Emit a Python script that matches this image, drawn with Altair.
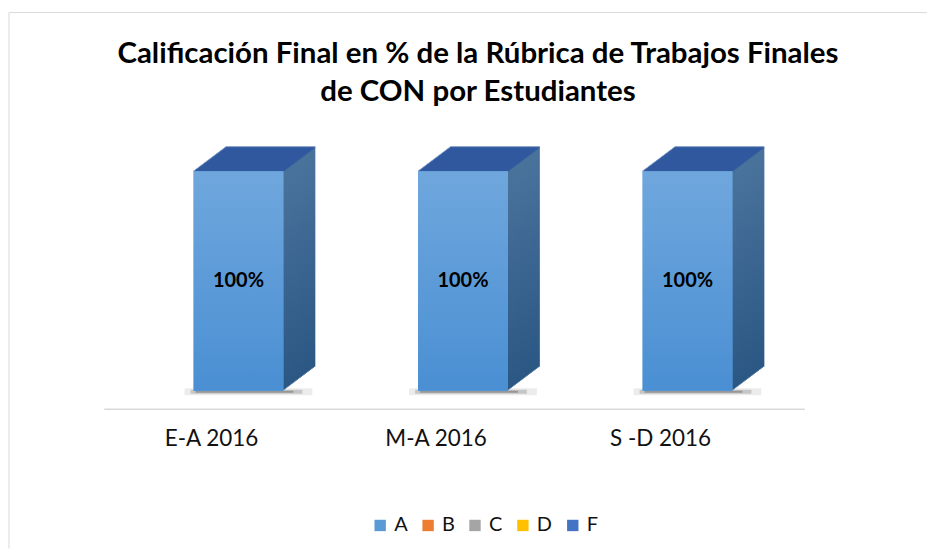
import altair as alt
import pandas as pd

categories = ["E-A 2016", "M-A 2016", "S -D 2016"]
grades = ["A", "B", "C", "D", "F"]
values_A = [100, 100, 100]
values_B = [0, 0, 0]
values_C = [0, 0, 0]
values_D = [0, 0, 0]
values_F = [0, 0, 0]
grade_colors = ["#5B9BD5", "#ED7D31", "#A5A5A5", "#FFC000", "#4472C4"]
title_lines = ["Calificación Final en % de la Rúbrica de Trabajos Finales",
               "de CON por Estudiantes"]

series = {"A": values_A, "B": values_B, "C": values_C, "D": values_D, "F": values_F}
rows = [{"cat": c, "grade": g, "value": v}
        for g in grades for c, v in zip(categories, series[g])]
df = pd.DataFrame(rows)

FONT = "Lato"
BAR_W = 90
XO = 9
DX, DY = 32, 24
N = 24

x = alt.X("cat:N", sort=categories,
          scale=alt.Scale(paddingInner=0.2, paddingOuter=0.16),
          axis=alt.Axis(title=None, labelAngle=0, domain=True, domainColor="#d9d9d9",
                        domainWidth=1.5, ticks=False, grid=False, offset=18,
                        labelFontSize=22.5, labelFont=FONT, labelColor="#111111",
                        labelPadding=19, labelOffset=-18))
yscale = alt.Scale(domain=[0, 100])
y = alt.Y("value:Q", scale=yscale, axis=None)

base = alt.Chart(df).transform_filter("datum.value > 0")

side_grad = alt.Gradient(gradient="linear",
                         stops=[alt.GradientStop(color="#4a739c", offset=0),
                                alt.GradientStop(color="#2b5784", offset=1)],
                         x1=0, x2=0, y1=0, y2=1)
front_grad = alt.Gradient(gradient="linear",
                          stops=[alt.GradientStop(color="#6fa7dd", offset=0),
                                 alt.GradientStop(color="#4a8fd3", offset=1)],
                          x1=0, x2=0, y1=0, y2=1)

layers = []
# soft shadow on floor
zero_y = alt.Y("zero:Q", scale=yscale, axis=None)
for size, thick, op, dxo in [(128, 7, 0.10, 10), (112, 4, 0.22, 8), (98, 2, 0.35, 6)]:
    layers.append(base.transform_calculate(zero="0")
                  .mark_tick(size=size, thickness=thick, color="#404040", opacity=op,
                             xOffset=XO + dxo, yOffset=1)
                  .encode(x=x, y=zero_y))
# side face (extrusion)
for k in range(N, 0, -1):
    ox = XO + k * DX / N
    oy = -k * DY / N
    layers.append(base.mark_bar(width=BAR_W, color=side_grad, xOffset=ox, x2Offset=ox,
                                yOffset=oy, y2Offset=oy).encode(x=x, y=y))
# top face
for k in range(N, -1, -1):
    ox = XO + k * DX / N
    oy = -k * DY / N
    layers.append(base.mark_tick(size=BAR_W, thickness=2, color="#2e55a0",
                                 xOffset=ox, yOffset=oy).encode(x=x, y=y))
# front face (legend carrier)
layers.append(base.mark_bar(width=BAR_W, xOffset=XO, x2Offset=XO).encode(
    x=x, y=y,
    color=alt.Color("grade:N", scale=alt.Scale(domain=grades, range=grade_colors),
                    legend=alt.Legend(title=None, orient="none", legendX=267, legendY=345,
                                      direction="horizontal", symbolType="square",
                                      symbolSize=130, symbolStrokeWidth=0,
                                      labelFontSize=20, labelFont=FONT, labelColor="#111111",
                                      columnPadding=10, labelOffset=4, padding=0))))
layers.append(base.mark_bar(width=BAR_W, color=front_grad, xOffset=XO, x2Offset=XO)
              .encode(x=x, y=y))
# labels
layers.append(base.transform_calculate(mid="datum.value / 2", lbl="datum.value + '%'")
              .mark_text(fontSize=20, fontWeight="bold", font=FONT, color="black", xOffset=XO)
              .encode(x=x, y=alt.Y("mid:Q", scale=yscale, axis=None), text="lbl:N"))

frame_src = alt.Data(values=[{}])
top_line = alt.Chart(frame_src).mark_rule(color="#d9d9d9", strokeWidth=1).encode(
    x=alt.value(-95), x2=alt.value(825), y=alt.value(-159))
left_line = alt.Chart(frame_src).mark_rule(color="#d9d9d9", strokeWidth=1).encode(
    x=alt.value(-95), y=alt.value(-159), y2=alt.value(378))
title_text = alt.Chart(frame_src).mark_text(
    text=title_lines, font=FONT, fontSize=29.5, fontWeight="bold", color="black",
    align="center", baseline="alphabetic", lineHeight=38).encode(
    x=alt.value(375), y=alt.value(-108))

chart = alt.layer(top_line, left_line, title_text, *layers).properties(
    width=702, height=220,
    padding={"left": 0, "top": 3, "right": 0, "bottom": 0},
).configure_view(stroke=None)

chart.save("out.html", embed_options={"renderer": "svg", "actions": False})
